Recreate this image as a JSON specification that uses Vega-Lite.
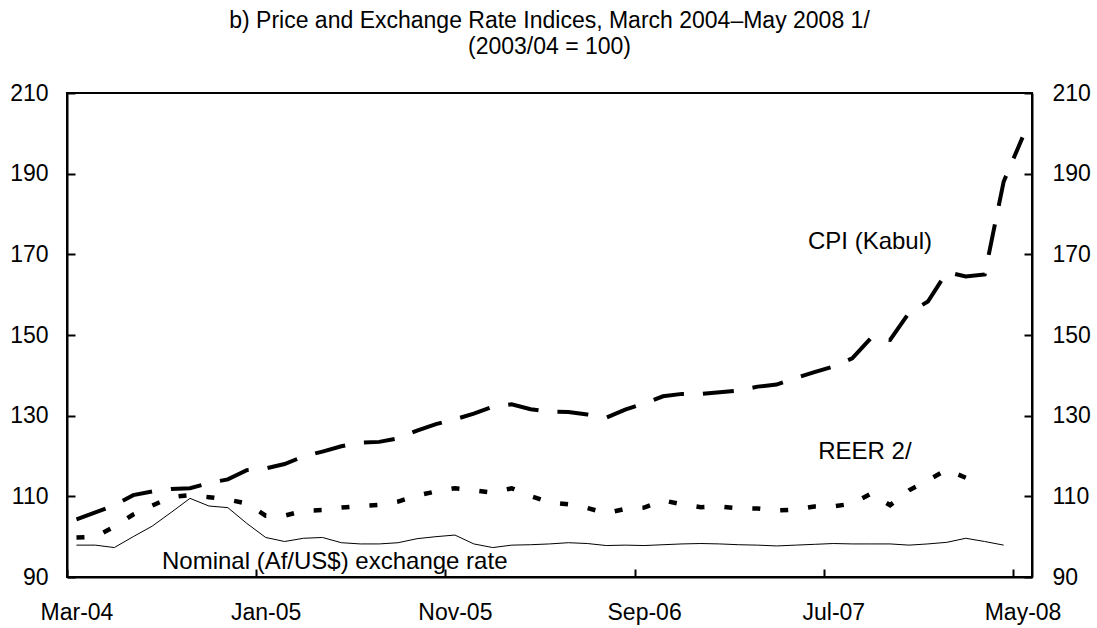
{
  "$schema": "https://vega.github.io/schema/vega-lite/v6.json",
  "width": 965,
  "height": 484,
  "autosize": {"type": "none"},
  "padding": {"left": 67, "top": 93, "right": 65, "bottom": 51},
  "background": "white",
  "title": {
    "text": ["b) Price and Exchange Rate Indices, March 2004–May 2008 1/", "(2003/04 = 100)"],
    "font": "Liberation Sans",
    "fontSize": 23,
    "fontWeight": "normal",
    "color": "black",
    "lineHeight": 26,
    "anchor": "middle",
    "offset": 23
  },
  "config": {
    "view": {"stroke": "black", "strokeWidth": 2},
    "axis": {
      "labelFont": "Liberation Sans",
      "labelFontSize": 23,
      "labelColor": "black",
      "domainColor": "black",
      "domainWidth": 2,
      "tickColor": "black",
      "tickWidth": 2,
      "tickSize": -8,
      "grid": false,
      "title": null,
      "labelOverlap": false,
      "labelFlush": false
    }
  },
  "data": {
    "values": [
      {"month": "Mar-04", "i": 0, "cpi": 104.3, "reer": 99.8, "nominal": 97.9},
      {"month": "Apr-04", "i": 1, "cpi": 106.0, "reer": 100.0, "nominal": 97.9},
      {"month": "May-04", "i": 2, "cpi": 107.8, "reer": 102.5, "nominal": 97.3},
      {"month": "Jun-04", "i": 3, "cpi": 110.3, "reer": 105.5, "nominal": 100.0},
      {"month": "Jul-04", "i": 4, "cpi": 111.2, "reer": 107.7, "nominal": 102.6},
      {"month": "Aug-04", "i": 5, "cpi": 111.8, "reer": 109.8, "nominal": 106.0},
      {"month": "Sep-04", "i": 6, "cpi": 112.0, "reer": 110.3, "nominal": 109.5},
      {"month": "Oct-04", "i": 7, "cpi": 113.3, "reer": 109.8, "nominal": 107.6},
      {"month": "Nov-04", "i": 8, "cpi": 114.2, "reer": 109.2, "nominal": 107.2},
      {"month": "Dec-04", "i": 9, "cpi": 116.5, "reer": 108.2, "nominal": 103.3},
      {"month": "Jan-05", "i": 10, "cpi": 116.9, "reer": 105.2, "nominal": 99.8},
      {"month": "Feb-05", "i": 11, "cpi": 118.0, "reer": 105.2, "nominal": 98.8},
      {"month": "Mar-05", "i": 12, "cpi": 119.9, "reer": 106.4, "nominal": 99.6},
      {"month": "Apr-05", "i": 13, "cpi": 121.1, "reer": 106.6, "nominal": 99.8},
      {"month": "May-05", "i": 14, "cpi": 122.4, "reer": 107.2, "nominal": 98.5},
      {"month": "Jun-05", "i": 15, "cpi": 123.3, "reer": 107.6, "nominal": 98.2},
      {"month": "Jul-05", "i": 16, "cpi": 123.5, "reer": 107.9, "nominal": 98.2},
      {"month": "Aug-05", "i": 17, "cpi": 124.4, "reer": 108.7, "nominal": 98.5},
      {"month": "Sep-05", "i": 18, "cpi": 126.3, "reer": 110.2, "nominal": 99.5},
      {"month": "Oct-05", "i": 19, "cpi": 127.9, "reer": 111.2, "nominal": 100.0},
      {"month": "Nov-05", "i": 20, "cpi": 129.1, "reer": 112.0, "nominal": 100.4},
      {"month": "Dec-05", "i": 21, "cpi": 130.5, "reer": 111.5, "nominal": 98.2},
      {"month": "Jan-06", "i": 22, "cpi": 132.2, "reer": 110.9, "nominal": 97.3},
      {"month": "Feb-06", "i": 23, "cpi": 132.8, "reer": 112.0, "nominal": 97.9},
      {"month": "Mar-06", "i": 24, "cpi": 131.6, "reer": 110.1, "nominal": 98.0},
      {"month": "Apr-06", "i": 25, "cpi": 131.0, "reer": 108.5, "nominal": 98.2},
      {"month": "May-06", "i": 26, "cpi": 130.9, "reer": 108.0, "nominal": 98.5},
      {"month": "Jun-06", "i": 27, "cpi": 130.3, "reer": 107.1, "nominal": 98.3},
      {"month": "Jul-06", "i": 28, "cpi": 129.5, "reer": 105.8, "nominal": 97.8},
      {"month": "Aug-06", "i": 29, "cpi": 131.5, "reer": 106.9, "nominal": 97.9},
      {"month": "Sep-06", "i": 30, "cpi": 133.0, "reer": 107.2, "nominal": 97.8},
      {"month": "Oct-06", "i": 31, "cpi": 134.8, "reer": 109.0, "nominal": 98.0},
      {"month": "Nov-06", "i": 32, "cpi": 135.4, "reer": 108.0, "nominal": 98.2},
      {"month": "Dec-06", "i": 33, "cpi": 135.4, "reer": 107.3, "nominal": 98.3},
      {"month": "Jan-07", "i": 34, "cpi": 135.8, "reer": 107.5, "nominal": 98.2},
      {"month": "Feb-07", "i": 35, "cpi": 136.2, "reer": 107.0, "nominal": 98.0},
      {"month": "Mar-07", "i": 36, "cpi": 137.2, "reer": 107.0, "nominal": 97.9},
      {"month": "Apr-07", "i": 37, "cpi": 137.7, "reer": 106.5, "nominal": 97.7},
      {"month": "May-07", "i": 38, "cpi": 139.3, "reer": 106.7, "nominal": 97.9},
      {"month": "Jun-07", "i": 39, "cpi": 140.8, "reer": 107.5, "nominal": 98.1},
      {"month": "Jul-07", "i": 40, "cpi": 142.2, "reer": 107.5, "nominal": 98.3},
      {"month": "Aug-07", "i": 41, "cpi": 144.2, "reer": 108.2, "nominal": 98.2},
      {"month": "Sep-07", "i": 42, "cpi": 149.3, "reer": 110.7, "nominal": 98.2},
      {"month": "Oct-07", "i": 43, "cpi": 148.8, "reer": 107.8, "nominal": 98.2},
      {"month": "Nov-07", "i": 44, "cpi": 155.5, "reer": 111.5, "nominal": 97.9},
      {"month": "Dec-07", "i": 45, "cpi": 158.3, "reer": 114.0, "nominal": 98.2},
      {"month": "Jan-08", "i": 46, "cpi": 165.6, "reer": 116.6, "nominal": 98.6},
      {"month": "Feb-08", "i": 47, "cpi": 164.5, "reer": 114.6, "nominal": 99.6},
      {"month": "Mar-08", "i": 48, "cpi": 165.0, "reer": null, "nominal": 98.8},
      {"month": "Apr-08", "i": 49, "cpi": 188.0, "reer": null, "nominal": 97.9},
      {"month": "May-08", "i": 50, "cpi": 199.0, "reer": null, "nominal": null}
    ]
  },
  "layer": [
    {
      "mark": {"type": "line", "stroke": "black", "strokeWidth": 1},
      "encoding": {
        "x": {
          "field": "i", "type": "quantitative",
          "scale": {"domain": [-0.5, 50.5], "nice": false, "zero": false},
          "axis": {
            "values": [-0.5, 9.5, 19.5, 29.5, 39.5, 49.5],
            "labelExpr": "['Mar-04','Jan-05','Nov-05','Sep-06','Jul-07','May-08'][round((datum.value + 0.5) / 10)]",
            "labelOffset": 9.46,
            "labelPadding": 32
          }
        },
        "y": {
          "field": "nominal", "type": "quantitative",
          "scale": {"domain": [90, 210], "nice": false, "zero": false},
          "axis": {"orient": "left", "values": [90, 110, 130, 150, 170, 190, 210], "labelPadding": 27}
        }
      }
    },
    {
      "mark": {"type": "line", "stroke": "black", "strokeWidth": 4.5, "strokeDash": [8, 20], "strokeCap": "butt"},
      "encoding": {
        "x": {"field": "i", "type": "quantitative", "scale": {"domain": [-0.5, 50.5], "nice": false, "zero": false}},
        "y": {
          "field": "reer", "type": "quantitative",
          "scale": {"domain": [90, 210], "nice": false, "zero": false},
          "axis": {"orient": "right", "values": [90, 110, 130, 150, 170, 190, 210], "labelPadding": 28}
        }
      }
    },
    {
      "mark": {"type": "line", "stroke": "black", "strokeWidth": 4, "strokeDash": [31, 19], "strokeCap": "butt"},
      "encoding": {
        "x": {"field": "i", "type": "quantitative", "scale": {"domain": [-0.5, 50.5], "nice": false, "zero": false}},
        "y": {"field": "cpi", "type": "quantitative", "scale": {"domain": [90, 210], "nice": false, "zero": false}, "axis": null}
      }
    },
    {
      "data": {
        "values": [
          {"label": "CPI (Kabul)", "i": 38.66, "v": 173.1},
          {"label": "REER 2/", "i": 39.2, "v": 121.0},
          {"label": "Nominal (Af/US$) exchange rate", "i": 4.52, "v": 93.7}
        ]
      },
      "mark": {"type": "text", "align": "left", "baseline": "middle", "font": "Liberation Sans", "fontSize": 24, "color": "black"},
      "encoding": {
        "x": {"field": "i", "type": "quantitative", "scale": {"domain": [-0.5, 50.5], "nice": false, "zero": false}},
        "y": {"field": "v", "type": "quantitative", "scale": {"domain": [90, 210], "nice": false, "zero": false}, "axis": null},
        "text": {"field": "label"}
      }
    }
  ],
  "resolve": {"axis": {"y": "independent"}}
}
